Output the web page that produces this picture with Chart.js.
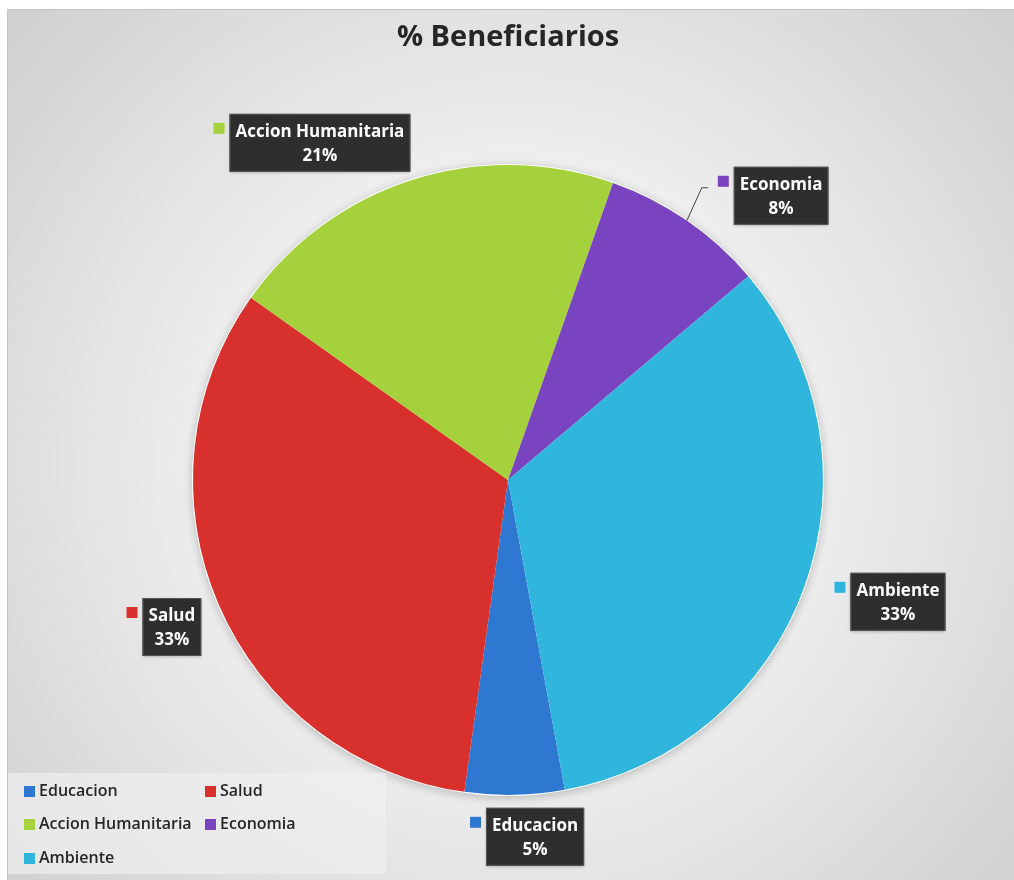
<!DOCTYPE html>
<html lang="es">

<head>
    <meta charset="UTF-8">
    <title>% Beneficiarios</title>
    <script src="https://cdn.jsdelivr.net/npm/chart.js"></script>
    <style>
        body {
            margin: 0;
            background: #fff;
            font-family: "Open Sans", sans-serif;
        }

        #frame {
            position: absolute;
            left: 7px;
            top: 9px;
            width: 1007px;
            height: 871px;
            border-top: 1px solid #c4c4c4;
            border-left: 1px solid #c4c4c4;
            background: radial-gradient(circle farthest-corner at 50% 52%, #fcfcfc 0%, #eeeeee 45%, #cfcfcf 100%);
        }

        #wrap {
            position: absolute;
            left: 0;
            top: 0;
            width: 1014px;
            height: 880px;
        }

        #legend {
            position: absolute;
            left: 8px;
            top: 773px;
            width: 378px;
            height: 101px;
            background: rgba(240, 240, 240, 0.7);
        }

        .item {
            position: absolute;
            font-size: 16px;
            font-weight: 600;
            color: #262626;
            line-height: 18px;
            white-space: nowrap;
        }

        .item span {
            display: inline-block;
            width: 11px;
            height: 11px;
            margin-right: 4px;
            vertical-align: -1px;
        }
    </style>
</head>

<body>
    <div id="frame"></div>
    <div id="wrap"><canvas id="myChart"></canvas></div>
    <div id="legend"></div>
    <script>
        // datos del grafico
        const categorias = ['Educacion', 'Salud', 'Accion Humanitaria', 'Economia', 'Ambiente'];
        const valores = [5.1, 32.6, 20.6, 8.4, 33.3];
        const colores = ['#2f78d2', '#d8312d', '#a5d13c', '#7a44c0', '#30b6dc'];

        // posicion de cada etiqueta (centro de la caja, en radios desde el centro)
        const etiquetaPos = [[0.086, 1.133], [-1.067, 0.467], [-0.597, -1.07], [0.867, -0.902], [1.238, 0.387]];
        const conLinea = [false, false, false, true, false];

        const total = valores.reduce((a, b) => a + b, 0);

        // sombra suave bajo el pie
        const sombra = {
            id: 'sombra',
            beforeDatasetsDraw(chart) {
                const arc = chart.getDatasetMeta(0).data[0];
                const ctx = chart.ctx;
                ctx.save();
                ctx.shadowColor = 'rgba(0,0,0,0.22)';
                ctx.shadowBlur = 10;
                ctx.shadowOffsetY = 2;
                ctx.fillStyle = '#ffffff';
                ctx.beginPath();
                ctx.arc(arc.x, arc.y, arc.outerRadius + 1, 0, Math.PI * 2);
                ctx.fill();
                ctx.restore();
            }
        };

        // etiquetas tipo excel (caja oscura)
        const etiquetas = {
            id: 'etiquetas',
            afterDatasetsDraw(chart) {
                const ctx = chart.ctx;
                const meta = chart.getDatasetMeta(0);
                ctx.save();
                ctx.font = 'bold 17px "Open Sans"';
                ctx.textAlign = 'center';
                ctx.textBaseline = 'middle';
                meta.data.forEach(function (arc, i) {
                    const r = arc.outerRadius;
                    const cx = arc.x + etiquetaPos[i][0] * r;
                    const cy = arc.y + etiquetaPos[i][1] * r;
                    const pct = Math.round(valores[i] / total * 100) + '%';
                    const w = Math.max(ctx.measureText(categorias[i]).width, ctx.measureText(pct).width) + 12;
                    const h = 58;
                    const x0 = cx - w / 2;
                    const y0 = cy - h / 2;

                    // linea guia
                    if (conLinea[i]) {
                        const mid = (arc.startAngle + arc.endAngle) / 2;
                        const px = arc.x + Math.cos(mid) * r;
                        const py = arc.y + Math.sin(mid) * r;
                        ctx.strokeStyle = '#404040';
                        ctx.lineWidth = 1;
                        ctx.beginPath();
                        ctx.moveTo(px, py);
                        ctx.lineTo(x0 - 32, y0 + 21);
                        ctx.lineTo(x0 - 26, y0 + 21);
                        ctx.stroke();
                    }

                    ctx.shadowColor = 'rgba(0,0,0,0.3)';
                    ctx.shadowBlur = 3;
                    ctx.shadowOffsetY = 1;
                    ctx.fillStyle = '#2e2e2e';
                    ctx.fillRect(x0, y0, w, h);
                    ctx.shadowColor = 'transparent';
                    ctx.strokeStyle = '#555';
                    ctx.strokeRect(x0 + 0.5, y0 + 0.5, w - 1, h - 1);

                    // marcador de color
                    ctx.fillStyle = colores[i];
                    ctx.fillRect(x0 - 16, y0 + 9, 11, 11);

                    ctx.fillStyle = '#ffffff';
                    ctx.fillText(categorias[i], cx, y0 + 18);
                    ctx.fillText(pct, cx, y0 + 42);
                });
                ctx.restore();
            }
        };

        const ctx = document.getElementById('myChart');

        const mychart = new Chart(ctx, {
            type: 'pie',
            data: {
                labels: categorias,
                datasets: [{
                    data: valores,
                    backgroundColor: colores,
                    borderWidth: 0
                }]
            },
            options: {
                responsive: true,
                maintainAspectRatio: false,
                animation: false,
                rotation: 169.6,
                layout: {
                    padding: { left: 193, right: 191, top: 20, bottom: 85 }
                },
                plugins: {
                    legend: { display: false },
                    tooltip: { enabled: false },
                    title: {
                        display: true,
                        text: '% Beneficiarios',
                        color: '#262626',
                        font: { family: 'Open Sans', size: 29, weight: 'bold' },
                        padding: { top: 0, bottom: 110 }
                    }
                }
            },
            plugins: [sombra, etiquetas]
        });

        // leyenda abajo a la izquierda
        const leg = document.getElementById('legend');
        const legPos = [[16, 8], [197, 8], [16, 41], [197, 41], [16, 75]];
        categorias.forEach(function (c, i) {
            const d = document.createElement('div');
            d.className = 'item';
            d.style.left = legPos[i][0] + 'px';
            d.style.top = legPos[i][1] + 'px';
            d.innerHTML = '<span style="background:' + colores[i] + '"></span>' + c;
            leg.appendChild(d);
        });
    </script>
</body>

</html>
